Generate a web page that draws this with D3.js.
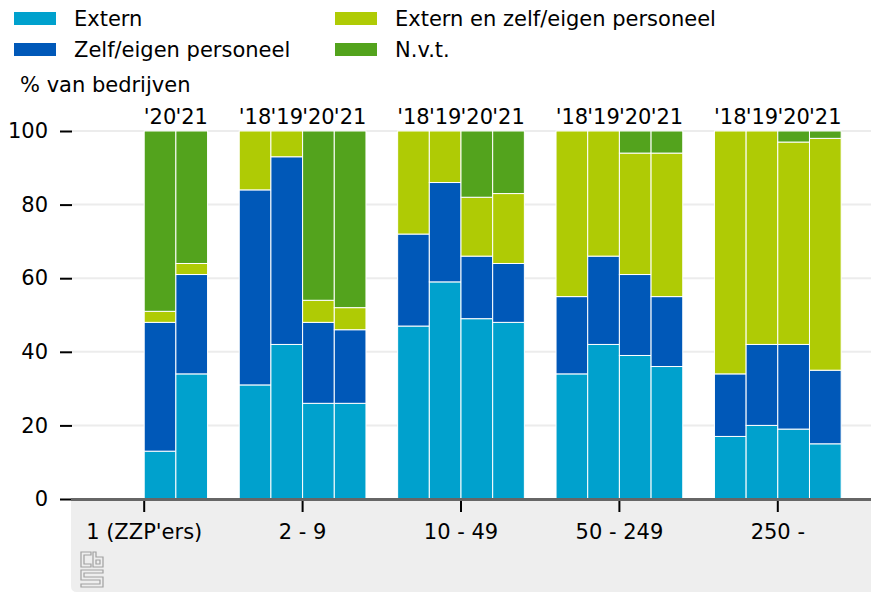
<!DOCTYPE html>
<html><head><meta charset="utf-8">
<script src="https://cdn.jsdelivr.net/npm/d3@7"></script>
<style>body{margin:0;background:#fff}svg{display:block;font-family:"DejaVu Sans",sans-serif}</style>
</head><body><svg id="c" width="871" height="592"></svg>
<script>
const categories = ["1 (ZZP'ers)", "2 - 9", "10 - 49", "50 - 249", "250 -"];
const years = ["'18", "'19", "'20", "'21"];
const seriesNames = ["Extern", "Zelf/eigen personeel", "Extern en zelf/eigen personeel", "N.v.t."];
const colors = ["#00a1cd", "#0058b8", "#afcb05", "#53a31d"];
// values per category, per year: [Extern, Zelf, Extern en zelf, N.v.t.]; null = no data
const extern = [[null,null,13,34],[31,42,26,26],[47,59,49,48],[34,42,39,36],[17,20,19,15]];
const zelf   = [[null,null,35,27],[53,51,22,20],[25,27,17,16],[21,24,22,19],[17,22,23,20]];
const beide  = [[null,null,3,3],[16,7,6,6],[28,14,16,19],[45,34,33,39],[66,58,55,63]];
const nvt    = [[null,null,49,36],[0,0,46,48],[0,0,18,17],[0,0,6,6],[0,0,3,2]];
const yTicks = [0,20,40,60,80,100];

const FS = 21;
const svg = d3.select("#c");
const x0 = d3.scaleBand().domain(categories).range([65, 857]).paddingInner(0);
const x1 = d3.scaleBand().domain(years).range([0, x0.bandwidth()]).paddingInner(0).paddingOuter(0.5);
const y = d3.scaleLinear().domain([0,100]).range([499, 131]);

// grey panel under axis
svg.append("path").attr("d","M71,500 H871 V592 H77 Q71,592 71,586 Z").attr("fill","#eeeeee");

// gridlines
svg.append("g").selectAll("line").data(yTicks.filter(d=>d>0)).join("line")
  .attr("x1",72).attr("x2",871).attr("y1",d=>y(d)).attr("y2",d=>y(d))
  .attr("stroke","#ececec").attr("stroke-width",2);

// y axis
const ya = svg.append("g").attr("transform","translate(72,0)")
  .call(d3.axisLeft(y).tickValues(yTicks).tickSize(12).tickPadding(12));
ya.select(".domain").remove();
ya.selectAll(".tick line").attr("stroke","#000").attr("stroke-width",2);
ya.selectAll(".tick text").attr("font-size",FS).attr("font-family","DejaVu Sans").attr("fill","#000");

// bars
const data = [extern, zelf, beide, nvt];
categories.forEach((cat, ci) => {
  years.forEach((yr, yi) => {
    if (extern[ci][yi] === null) return;
    let acc = 0;
    const bx = x0(cat) + x1(yr);
    seriesNames.forEach((s, si) => {
      const v = data[si][ci][yi];
      if (v > 0) {
        svg.append("rect").attr("x", bx).attr("width", x1.bandwidth())
          .attr("y", y(acc+v)).attr("height", y(acc) - y(acc+v))
          .attr("fill", colors[si]).attr("stroke","#fff").attr("stroke-width",1);
      }
      acc += v;
    });
    svg.append("text").attr("x", bx + x1.bandwidth()/2).attr("y", 124)
      .attr("text-anchor","middle").attr("font-size",FS).text(yr);
  });
});

// x axis baseline
svg.append("line").attr("x1",71).attr("x2",871).attr("y1",499.5).attr("y2",499.5)
  .attr("stroke","#666").attr("stroke-width",3);
const xa = svg.append("g").attr("transform","translate(0,501)")
  .call(d3.axisBottom(x0).tickSize(11).tickPadding(12));
xa.select(".domain").remove();
xa.selectAll(".tick line").attr("stroke","#000").attr("stroke-width",2);
xa.selectAll(".tick text").attr("font-size",FS).attr("font-family","DejaVu Sans").attr("fill","#000");

// y label
svg.append("text").attr("x",20).attr("y",92).attr("font-size",FS).text("% van bedrijven");

// legend
const legPos = [[14,12],[14,43],[335,12],[335,43]];
seriesNames.forEach((s,i)=>{
  const g = svg.append("g").attr("transform",`translate(${legPos[i][0]},${legPos[i][1]})`);
  g.append("rect").attr("width",42).attr("height",13).attr("fill",colors[i]);
  g.append("text").attr("x",60).attr("y",14).attr("font-size",FS).text(s);
});

// CBS logo (approximation)
const lg = svg.append("g").attr("transform","translate(80,551)").attr("fill","none").attr("stroke","#a0a0a0").attr("stroke-width",1.2);
lg.append("path").attr("d","M1,1 H11 V4 H4 V13 H11 V16 H1 Z");
lg.append("path").attr("d","M13,1 H16 V6 H23 V16 H13 Z M16,9 V13 H20 V9 Z");
lg.append("path").attr("d","M1,19 H23 V22 H4 V26 H23 V36 H1 V33 H20 V29 H1 Z");
</script></body></html>
